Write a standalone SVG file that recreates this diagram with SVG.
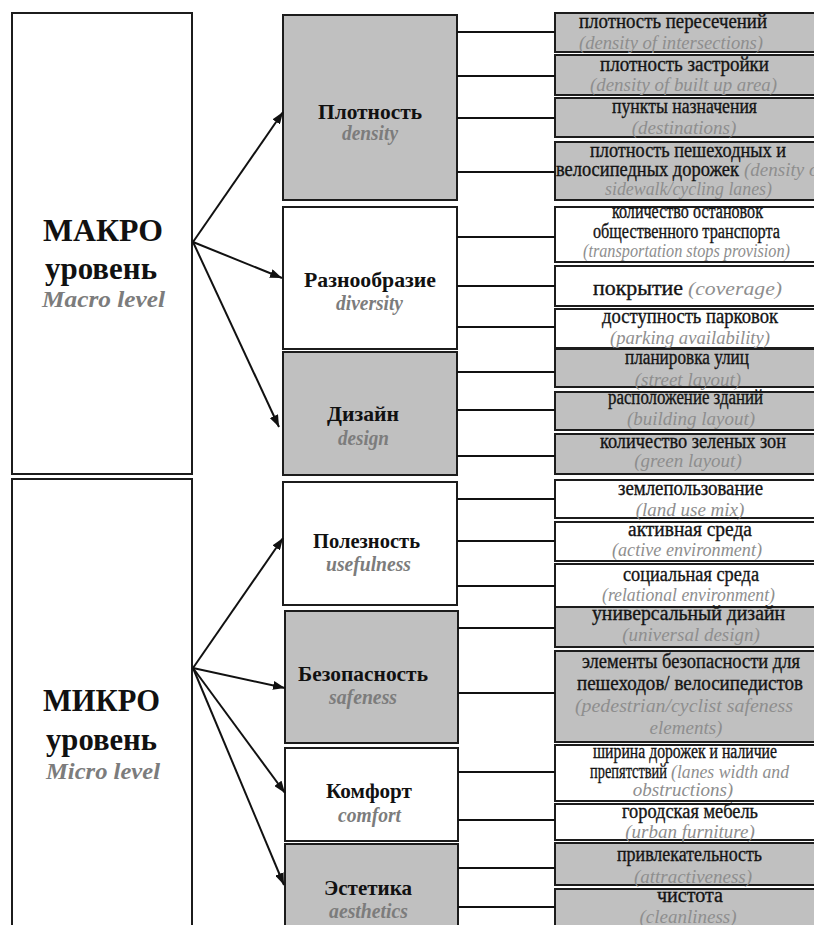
<svg xmlns="http://www.w3.org/2000/svg" width="814" height="925" viewBox="0 0 814 925">
<style>
.bx{stroke:#1c1c1c;stroke-width:2}
.g{fill:#c0c0c0}
.w{fill:#ffffff}
.ln{stroke:#111;stroke-width:2;fill:none}
text{font-family:"Liberation Serif","Times New Roman",serif}
.rt{font-size:20px;fill:#141414;stroke:#141414;stroke-width:0.35px}
.ri{font-size:19px;fill:#8e8e8e;font-style:italic}
.mt{font-size:22px;font-weight:bold;fill:#111}
.mi{font-size:20px;font-weight:bold;font-style:italic;fill:#7c7c7c}
.lt{font-size:31px;font-weight:bold;fill:#111}
.li{font-size:24px;font-weight:bold;font-style:italic;fill:#7c7c7c}
</style>
<defs>
<marker id="ah" viewBox="0 0 12 9" refX="12" refY="4.5" markerWidth="12" markerHeight="9" markerUnits="userSpaceOnUse" orient="auto">
<path d="M0,0 L12,4.5 L0,9 z" fill="#111"/>
</marker>
</defs>
<rect width="814" height="925" fill="#ffffff"/>

<g id="macro">
<rect class="bx w" x="12" y="13" width="180" height="461"/>
<text class="lt" x="43" y="241" textLength="120" lengthAdjust="spacingAndGlyphs">МАКРО</text>
<text class="lt" x="45" y="279" textLength="112" lengthAdjust="spacingAndGlyphs">уровень</text>
<text class="li" x="42" y="307" textLength="123" lengthAdjust="spacingAndGlyphs">Macro level</text>
</g>
<g id="micro">
<rect class="bx w" x="12" y="479" width="180" height="470"/>
<text class="lt" x="43" y="711" textLength="117" lengthAdjust="spacingAndGlyphs">МИКРО</text>
<text class="lt" x="46" y="750" textLength="111" lengthAdjust="spacingAndGlyphs">уровень</text>
<text class="li" x="46" y="779" textLength="114" lengthAdjust="spacingAndGlyphs">Micro level</text>
</g>

<g id="density">
<rect class="bx g" x="283" y="15" width="174" height="185"/>
<text class="mt" x="318" y="119" textLength="104" lengthAdjust="spacingAndGlyphs">Плотность</text>
<text class="mi" x="342" y="140" textLength="56" lengthAdjust="spacingAndGlyphs">density</text>
</g>
<g id="diversity">
<rect class="bx w" x="283" y="207" width="174" height="142"/>
<text class="mt" x="304" y="287" textLength="132" lengthAdjust="spacingAndGlyphs">Разнообразие</text>
<text class="mi" x="336" y="310" textLength="67" lengthAdjust="spacingAndGlyphs">diversity</text>
</g>
<g id="design">
<rect class="bx g" x="283" y="352" width="174" height="123"/>
<text class="mt" x="327" y="421" textLength="72" lengthAdjust="spacingAndGlyphs">Дизайн</text>
<text class="mi" x="338" y="445" textLength="51" lengthAdjust="spacingAndGlyphs">design</text>
</g>
<g id="usefulness">
<rect class="bx w" x="283" y="482" width="174" height="123"/>
<text class="mt" x="313" y="548" textLength="107" lengthAdjust="spacingAndGlyphs">Полезность</text>
<text class="mi" x="326" y="571" textLength="85" lengthAdjust="spacingAndGlyphs">usefulness</text>
</g>
<g id="safeness">
<rect class="bx g" x="285" y="611" width="173" height="132"/>
<text class="mt" x="298" y="681" textLength="130" lengthAdjust="spacingAndGlyphs">Безопасность</text>
<text class="mi" x="329" y="704" textLength="68" lengthAdjust="spacingAndGlyphs">safeness</text>
</g>
<g id="comfort">
<rect class="bx w" x="285" y="748" width="173" height="93"/>
<text class="mt" x="326" y="798" textLength="86" lengthAdjust="spacingAndGlyphs">Комфорт</text>
<text class="mi" x="338" y="822" textLength="63" lengthAdjust="spacingAndGlyphs">comfort</text>
</g>
<g id="aesthetics">
<rect class="bx g" x="285" y="844" width="173" height="100"/>
<text class="mt" x="324" y="895" textLength="88" lengthAdjust="spacingAndGlyphs">Эстетика</text>
<text class="mi" x="329" y="918" textLength="79" lengthAdjust="spacingAndGlyphs">aesthetics</text>
</g>

<g id="r1">
<rect class="bx g" x="555" y="13" width="270" height="39"/>
<text class="rt" x="579" y="28" textLength="188" lengthAdjust="spacingAndGlyphs">плотность пересечений</text>
<text class="ri" x="579" y="49" textLength="184" lengthAdjust="spacingAndGlyphs">(density of intersections)</text>
</g>
<g id="r2">
<rect class="bx g" x="555" y="55" width="270" height="40"/>
<text class="rt" x="600" y="71" textLength="169" lengthAdjust="spacingAndGlyphs">плотность застройки</text>
<text class="ri" x="590" y="91" textLength="187" lengthAdjust="spacingAndGlyphs">(density of built up area)</text>
</g>
<g id="r3">
<rect class="bx g" x="555" y="98" width="270" height="39"/>
<text class="rt" x="612" y="113" textLength="145" lengthAdjust="spacingAndGlyphs">пункты назначения</text>
<text class="ri" x="684" y="134" text-anchor="middle">(destinations)</text>
</g>
<g id="r4">
<rect class="bx g" x="555" y="142" width="270" height="58"/>
<text class="rt" x="590" y="157" textLength="196" lengthAdjust="spacingAndGlyphs">плотность пешеходных и</text>
<text class="rt" x="556" y="176" textLength="183" lengthAdjust="spacingAndGlyphs">велосипедных дорожек</text>
<text class="ri" x="744" y="176">(density of</text>
<text class="ri" x="605" y="195" textLength="167" lengthAdjust="spacingAndGlyphs">sidewalk/cycling lanes)</text>
</g>
<g id="r5">
<rect class="bx w" x="555" y="207" width="270" height="55"/>
<text class="rt" x="612" y="218" textLength="151" lengthAdjust="spacingAndGlyphs" font-size="17">количество остановок</text>
<text class="rt" x="593" y="238" textLength="187" lengthAdjust="spacingAndGlyphs" font-size="17">общественного транспорта</text>
<text class="ri" x="583" y="257" textLength="207" lengthAdjust="spacingAndGlyphs" font-size="16">(transportation stops provision)</text>
</g>
<g id="r6">
<rect class="bx w" x="555" y="266" width="270" height="40"/>
<text class="rt" x="593" y="295" textLength="90" lengthAdjust="spacingAndGlyphs" font-size="25">покрытие</text>
<text class="ri" x="688" y="295" textLength="94" lengthAdjust="spacingAndGlyphs" font-size="24">(coverage)</text>
</g>
<g id="r7">
<rect class="bx w" x="555" y="309" width="270" height="39"/>
<text class="rt" x="602" y="323" textLength="176" lengthAdjust="spacingAndGlyphs">доступность парковок</text>
<text class="ri" x="610" y="344" textLength="160" lengthAdjust="spacingAndGlyphs">(parking availability)</text>
</g>
<g id="r8">
<rect class="bx g" x="555" y="349" width="270" height="38"/>
<text class="rt" x="625" y="364" textLength="124" lengthAdjust="spacingAndGlyphs">планировка улиц</text>
<text class="ri" x="688" y="386" text-anchor="middle">(street layout)</text>
</g>
<g id="r9">
<rect class="bx g" x="555" y="392" width="270" height="38"/>
<text class="rt" x="608" y="404" textLength="155" lengthAdjust="spacingAndGlyphs">расположение зданий</text>
<text class="ri" x="691" y="425" text-anchor="middle">(building layout)</text>
</g>
<g id="r10">
<rect class="bx g" x="555" y="434" width="270" height="40"/>
<text class="rt" x="600" y="448" textLength="186" lengthAdjust="spacingAndGlyphs">количество зеленых зон</text>
<text class="ri" x="688" y="467" text-anchor="middle">(green layout)</text>
</g>
<g id="r11">
<rect class="bx w" x="555" y="480" width="270" height="38"/>
<text class="rt" x="618" y="495" textLength="145" lengthAdjust="spacingAndGlyphs">землепользование</text>
<text class="ri" x="690" y="516" text-anchor="middle">(land use mix)</text>
</g>
<g id="r12">
<rect class="bx w" x="555" y="522" width="270" height="39"/>
<text class="rt" x="628" y="536" textLength="124" lengthAdjust="spacingAndGlyphs">активная среда</text>
<text class="ri" x="612" y="556" textLength="150" lengthAdjust="spacingAndGlyphs">(active environment)</text>
</g>
<g id="r13">
<rect class="bx w" x="555" y="564" width="270" height="43"/>
<text class="rt" x="623" y="581" textLength="136" lengthAdjust="spacingAndGlyphs">социальная среда</text>
<text class="ri" x="602" y="601" textLength="173" lengthAdjust="spacingAndGlyphs">(relational environment)</text>
</g>
<g id="r14">
<rect class="bx g" x="555" y="607" width="270" height="40"/>
<text class="rt" x="592" y="620" textLength="193" lengthAdjust="spacingAndGlyphs">универсальный дизайн</text>
<text class="ri" x="691" y="641" text-anchor="middle">(universal design)</text>
</g>
<g id="r15">
<rect class="bx g" x="555" y="651" width="270" height="91"/>
<text class="rt" x="582" y="668" textLength="218" lengthAdjust="spacingAndGlyphs">элементы безопасности для</text>
<text class="rt" x="577" y="690" textLength="226" lengthAdjust="spacingAndGlyphs">пешеходов/ велосипедистов</text>
<text class="ri" x="575" y="712" textLength="218" lengthAdjust="spacingAndGlyphs">(pedestrian/cyclist safeness</text>
<text class="ri" x="686" y="734" text-anchor="middle">elements)</text>
</g>
<g id="r16">
<rect class="bx w" x="555" y="745" width="270" height="56"/>
<text class="rt" x="593" y="758" textLength="184" lengthAdjust="spacingAndGlyphs" font-size="17">ширина дорожек и наличие</text>
<text class="rt" x="590" y="778" textLength="77" lengthAdjust="spacingAndGlyphs" font-size="17">препятствий</text>
<text class="ri" x="671" y="778" textLength="118" lengthAdjust="spacingAndGlyphs" font-size="17">(lanes width and</text>
<text class="ri" x="683" y="796" text-anchor="middle" font-size="17">obstructions)</text>
</g>
<g id="r17">
<rect class="bx w" x="555" y="804" width="270" height="36"/>
<text class="rt" x="622" y="818" textLength="136" lengthAdjust="spacingAndGlyphs">городская мебель</text>
<text class="ri" x="690" y="838" text-anchor="middle">(urban furniture)</text>
</g>
<g id="r18">
<rect class="bx g" x="555" y="843" width="270" height="42"/>
<text class="rt" x="617" y="861" textLength="145" lengthAdjust="spacingAndGlyphs">привлекательность</text>
<text class="ri" x="693" y="883" text-anchor="middle">(attractiveness)</text>
</g>
<g id="r19">
<rect class="bx g" x="555" y="889" width="270" height="50"/>
<text class="rt" x="657" y="902" textLength="66" lengthAdjust="spacingAndGlyphs">чистота</text>
<text class="ri" x="688" y="923" text-anchor="middle">(cleanliness)</text>
</g>

<g id="connectors">
<path class="ln" d="M457,32H555M457,76H555M457,118H555M457,172H555"/>
<path class="ln" d="M457,237H555M457,286H555M457,327H555"/>
<path class="ln" d="M457,372H555M457,410H555M457,456H555"/>
<path class="ln" d="M457,499H555M457,541H555M457,586H555"/>
<path class="ln" d="M458,628H555M458,693H555"/>
<path class="ln" d="M458,772H555M458,820H555"/>
<path class="ln" d="M458,868H555M458,907H555"/>
<line class="ln" x1="193" y1="242" x2="283" y2="112" marker-end="url(#ah)"/>
<line class="ln" x1="193" y1="242" x2="282" y2="278" marker-end="url(#ah)"/>
<line class="ln" x1="193" y1="242" x2="279" y2="427" marker-end="url(#ah)"/>
<line class="ln" x1="193" y1="668" x2="283" y2="538" marker-end="url(#ah)"/>
<line class="ln" x1="193" y1="668" x2="285" y2="688" marker-end="url(#ah)"/>
<line class="ln" x1="193" y1="668" x2="285" y2="793" marker-end="url(#ah)"/>
<line class="ln" x1="193" y1="668" x2="284" y2="885" marker-end="url(#ah)"/>
</g>
</svg>
